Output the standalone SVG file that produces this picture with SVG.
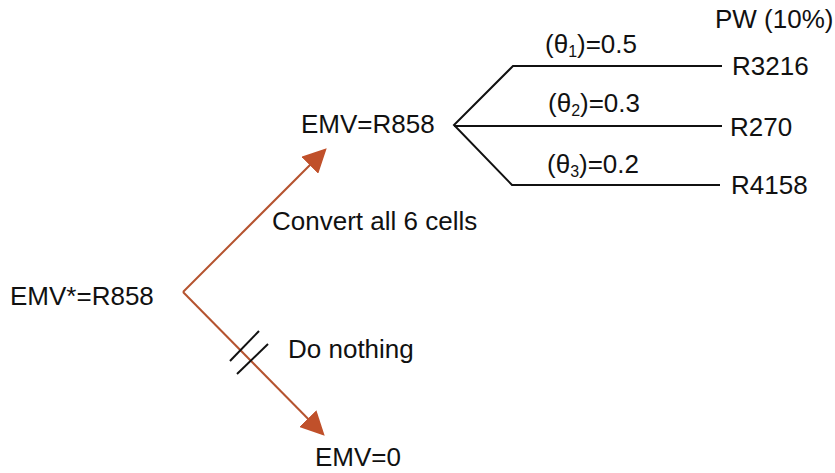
<svg xmlns="http://www.w3.org/2000/svg" width="835" height="473" viewBox="0 0 835 473">
<style>
text{font-family:"Liberation Sans",Arial,sans-serif;font-size:26px;fill:#111}
.tree{stroke:#111;stroke-width:2;fill:none}
.arr{stroke:#b5532f;stroke-width:2;fill:none}
.hash{stroke:#111;stroke-width:2}
</style>
<defs>
<marker id="ahb" viewBox="0 0 10 10" refX="9" refY="5" markerWidth="24" markerHeight="24" markerUnits="userSpaceOnUse" orient="auto">
<path d="M0,0 L10,5 L0,10 z" fill="#c0502a"/>
</marker>
</defs>
<g id="connectors">
<line class="arr" x1="183" y1="292" x2="325" y2="150" marker-end="url(#ahb)"/>
<line class="arr" x1="183" y1="292" x2="323" y2="434" marker-end="url(#ahb)"/>
<line class="hash" x1="230" y1="361" x2="259" y2="331"/>
<line class="hash" x1="237" y1="374" x2="268" y2="344"/>
<polyline class="tree" points="722,66 513,66 454,125 512,185 720,185"/>
<line class="tree" x1="454" y1="126" x2="722" y2="126"/>
</g>
<g id="root"><text x="10" y="305">EMV*=R858</text></g>
<g id="chance"><text x="301" y="133">EMV=R858</text></g>
<g id="nothing"><text x="315" y="466">EMV=0</text></g>
<g id="label-convert"><text x="272" y="230">Convert all 6 cells</text></g>
<g id="label-nothing"><text x="288" y="358">Do nothing</text></g>
<g id="header"><text x="715" y="28">PW (10%)</text></g>
<g id="outcome1"><text x="545" y="53">(θ<tspan font-size="16" dy="4">1</tspan><tspan dy="-4">)=0.5</tspan></text><text x="732" y="75">R3216</text></g>
<g id="outcome2"><text x="548" y="112">(θ<tspan font-size="16" dy="4">2</tspan><tspan dy="-4">)=0.3</tspan></text><text x="730" y="136">R270</text></g>
<g id="outcome3"><text x="547" y="173">(θ<tspan font-size="16" dy="4">3</tspan><tspan dy="-4">)=0.2</tspan></text><text x="731" y="194">R4158</text></g>
</svg>
